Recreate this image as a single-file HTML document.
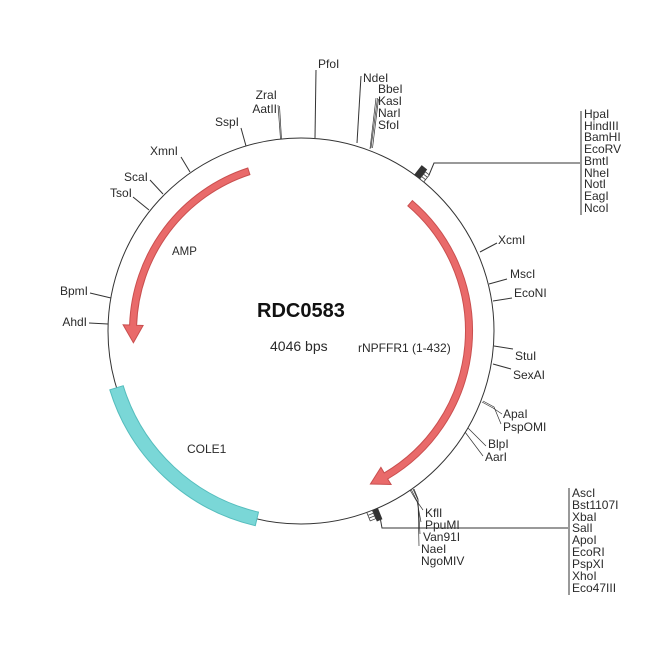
<!DOCTYPE html>
<html>
<head>
<meta charset="utf-8">
<style>
  html,body{margin:0;padding:0;background:#fff;}
  svg{display:block;}
  text{font-family:"Liberation Sans", Arial, sans-serif; fill:#2a2a2a;}
  .e{font-size:12px;}
  .ln{stroke:#333;stroke-width:1;fill:none;}
  .tn{stroke:#333;stroke-width:0.7;fill:none;}
</style>
</head>
<body>
<svg width="650" height="650" viewBox="0 0 650 650" xmlns="http://www.w3.org/2000/svg">
  <rect width="650" height="650" fill="#fff"/>

  <!-- backbone -->
  <circle cx="301" cy="331" r="193" fill="none" stroke="#333" stroke-width="1"/>

  <!-- COLE1 -->
  <path d="M 255.3,525.7 A 200 200 0 0 1 109.8,389.8 L 123.2,385.7 A 186 186 0 0 0 258.5,512.1 Z" fill="#7ad7d7" stroke="#55bdbd" stroke-width="1"/>

  <!-- rNPFFR1 arrow -->
  <path d="M 412.4,200.6 A 171.5 171.5 0 0 1 387.7,479.0 L 391.1,484.5 L 370.4,484.0 L 380.9,467.3 L 384.2,472.9 A 164.5 164.5 0 0 0 407.8,205.9 Z" fill="#e96a6a" stroke="#c94f4f" stroke-width="1"/>

  <!-- AMP arrow -->
  <path d="M 247.8,168.0 A 171.5 171.5 0 0 0 129.6,325.0 L 123.1,324.8 L 133.4,342.7 L 143.1,325.5 L 136.6,325.3 A 164.5 164.5 0 0 1 249.9,174.6 Z" fill="#e96a6a" stroke="#c94f4f" stroke-width="1"/>

  <!-- center labels -->
  <text x="257" y="317" style="font-size:20px;font-weight:bold;fill:#111">RDC0583</text>
  <text x="270" y="351" style="font-size:14px">4046 bps</text>
  <text x="358" y="352" class="e">rNPFFR1 (1-432)</text>
  <text x="172" y="255" style="font-size:11.5px">AMP</text>
  <text x="187" y="453" class="e">COLE1</text>

  <!-- top enzymes -->
  <line class="ln" x1="316" y1="70" x2="315" y2="138"/>
  <text class="e" x="318" y="68">PfoI</text>

  <line class="ln" x1="361" y1="76" x2="357" y2="143"/>
  <text class="e" x="363" y="82">NdeI</text>

  <line class="tn" x1="376" y1="98" x2="370" y2="149"/>
  <line class="tn" x1="377.5" y1="98" x2="371" y2="148"/>
  <line class="tn" x1="378.5" y1="99" x2="372.5" y2="148"/>
  <text class="e" x="378" y="93">BbeI</text>
  <text class="e" x="378" y="105">KasI</text>
  <text class="e" x="378" y="117">NarI</text>
  <text class="e" x="378" y="129">SfoI</text>

  <line class="tn" x1="278" y1="105" x2="280.5" y2="139"/>
  <line class="tn" x1="279.5" y1="106" x2="281.5" y2="139"/>
  <text class="e" x="277" y="99" text-anchor="end">ZraI</text>
  <text class="e" x="277" y="113" text-anchor="end">AatII</text>

  <line class="ln" x1="241" y1="128" x2="246" y2="146"/>
  <text class="e" x="239" y="126" text-anchor="end">SspI</text>

  <!-- top-right marker & list -->
  <g transform="rotate(38 301 331)">
    <rect x="294" y="126" width="7" height="12" fill="#333"/>
    <rect x="301" y="129" width="5" height="9" fill="#fff" stroke="#444" stroke-width="0.8"/>
    <line x1="301" y1="132" x2="306" y2="132" stroke="#444" stroke-width="0.8"/>
    <line x1="301" y1="135" x2="306" y2="135" stroke="#444" stroke-width="0.8"/>
  </g>
  <polyline class="ln" points="429,175 434,163 580,163"/>
  <line class="ln" x1="581" y1="111" x2="581" y2="215"/>
  <text class="e" x="584" y="118">HpaI</text>
  <text class="e" x="584" y="130">HindIII</text>
  <text class="e" x="584" y="141">BamHI</text>
  <text class="e" x="584" y="153">EcoRV</text>
  <text class="e" x="584" y="165">BmtI</text>
  <text class="e" x="584" y="177">NheI</text>
  <text class="e" x="584" y="188">NotI</text>
  <text class="e" x="584" y="200">EagI</text>
  <text class="e" x="584" y="212">NcoI</text>

  <!-- right enzymes -->
  <line class="ln" x1="480" y1="252" x2="497" y2="243"/>
  <text class="e" x="498" y="244">XcmI</text>
  <line class="ln" x1="489" y1="284" x2="507" y2="279"/>
  <text class="e" x="510" y="278">MscI</text>
  <line class="ln" x1="493" y1="301" x2="512" y2="298"/>
  <text class="e" x="514" y="297">EcoNI</text>
  <line class="ln" x1="494" y1="346" x2="513" y2="349"/>
  <text class="e" x="515" y="360">StuI</text>
  <line class="ln" x1="493" y1="364" x2="511" y2="369"/>
  <text class="e" x="513" y="379">SexAI</text>

  <polyline class="tn" points="482,402 493,408 502,414"/>
  <polyline class="tn" points="483,401 494,407 501,424"/>
  <text class="e" x="503" y="418">ApaI</text>
  <text class="e" x="503" y="431">PspOMI</text>

  <line class="tn" x1="468" y1="428" x2="486" y2="446"/>
  <line class="tn" x1="465" y1="432" x2="483" y2="456"/>
  <text class="e" x="488" y="448">BlpI</text>
  <text class="e" x="485" y="461">AarI</text>

  <!-- bottom enzymes -->
  <polyline class="tn" points="410,490 416,500 423,510"/>
  <polyline class="tn" points="411.5,490 417,501 421,522"/>
  <polyline class="tn" points="413,489 418,500 420,534"/>
  <polyline class="tn" points="414,489 418,499 419,546"/>
  <text class="e" x="425" y="517">KflI</text>
  <text class="e" x="425" y="529">PpuMI</text>
  <text class="e" x="423" y="541">Van91I</text>
  <text class="e" x="421" y="553">NaeI</text>
  <text class="e" x="421" y="565">NgoMIV</text>

  <!-- bottom-right marker & list -->
  <g transform="rotate(158 301 331)">
    <rect x="296" y="126" width="6" height="12" fill="#333"/>
    <rect x="302" y="129" width="6" height="9" fill="#fff" stroke="#444" stroke-width="0.8"/>
    <line x1="302" y1="132" x2="308" y2="132" stroke="#444" stroke-width="0.8"/>
    <line x1="302" y1="135" x2="308" y2="135" stroke="#444" stroke-width="0.8"/>
  </g>
  <polyline class="ln" points="380,517 382,528 568,528"/>
  <line class="ln" x1="569" y1="488" x2="569" y2="595"/>
  <text class="e" x="572" y="497">AscI</text>
  <text class="e" x="572" y="509">Bst1107I</text>
  <text class="e" x="572" y="521">XbaI</text>
  <text class="e" x="572" y="532">SalI</text>
  <text class="e" x="572" y="544">ApoI</text>
  <text class="e" x="572" y="556">EcoRI</text>
  <text class="e" x="572" y="568">PspXI</text>
  <text class="e" x="572" y="580">XhoI</text>
  <text class="e" x="572" y="592">Eco47III</text>

  <!-- left enzymes -->
  <line class="ln" x1="181" y1="157" x2="190" y2="172"/>
  <text class="e" x="178" y="155" text-anchor="end">XmnI</text>
  <line class="ln" x1="150" y1="180" x2="163" y2="194"/>
  <text class="e" x="148" y="181" text-anchor="end">ScaI</text>
  <line class="ln" x1="133" y1="197" x2="149" y2="210"/>
  <text class="e" x="132" y="197" text-anchor="end">TsoI</text>
  <line class="ln" x1="90" y1="293" x2="111" y2="298"/>
  <text class="e" x="88" y="295" text-anchor="end">BpmI</text>
  <line class="ln" x1="89" y1="323" x2="108" y2="324"/>
  <text class="e" x="87" y="326" text-anchor="end">AhdI</text>
</svg>
</body>
</html>
